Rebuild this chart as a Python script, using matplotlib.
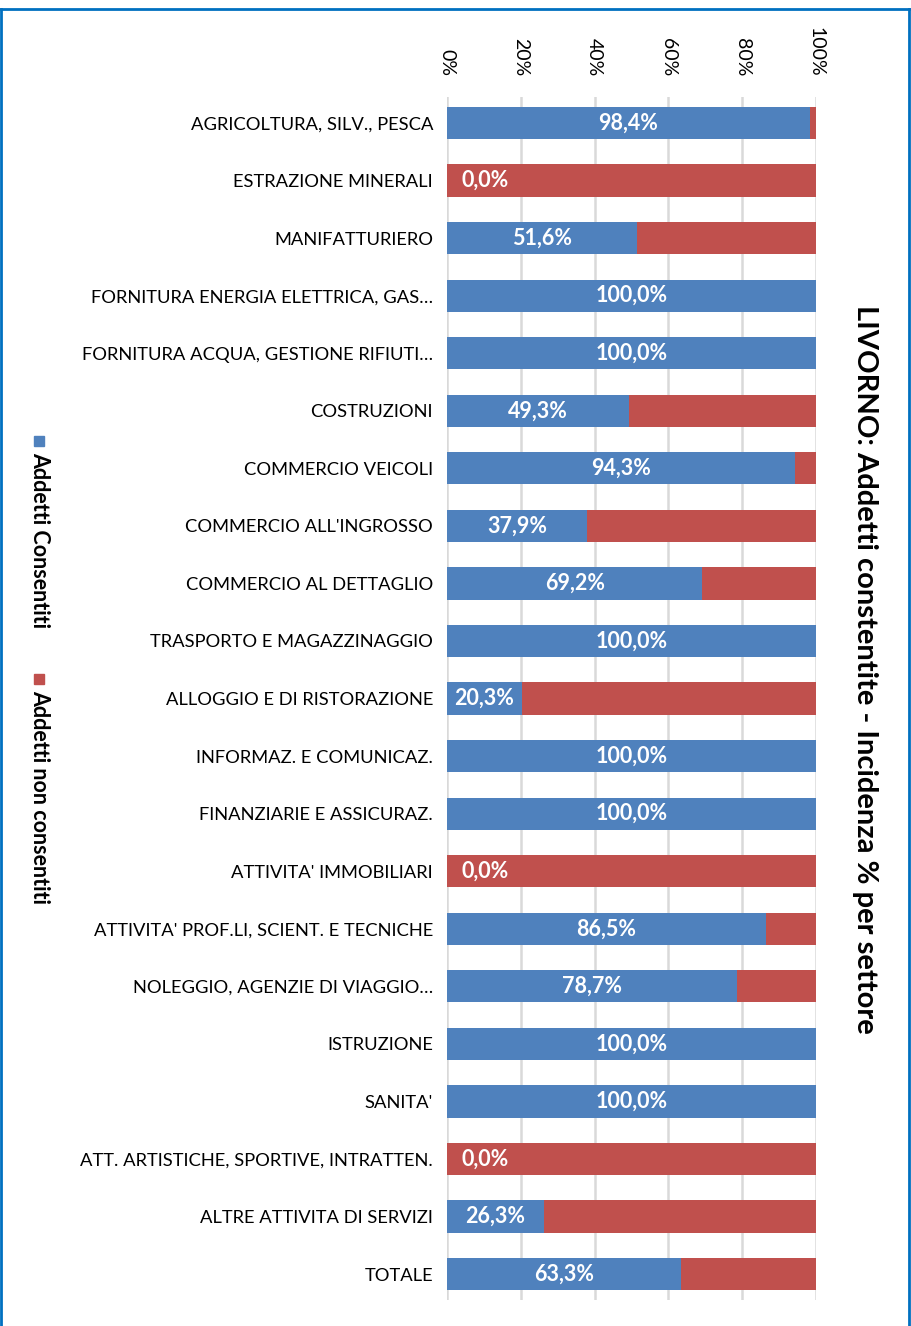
import matplotlib
matplotlib.use("Agg")
import matplotlib.pyplot as plt
from matplotlib.lines import Line2D
from matplotlib.patches import Rectangle
import numpy as np

plt.rcParams["font.family"] = ["Lato", "DejaVu Sans"]

sectors = [
    "AGRICOLTURA, SILV., PESCA",
    "ESTRAZIONE MINERALI",
    "MANIFATTURIERO",
    "FORNITURA ENERGIA ELETTRICA, GAS…",
    "FORNITURA ACQUA, GESTIONE RIFIUTI…",
    "COSTRUZIONI",
    "COMMERCIO VEICOLI",
    "COMMERCIO ALL'INGROSSO",
    "COMMERCIO AL DETTAGLIO",
    "TRASPORTO E MAGAZZINAGGIO",
    "ALLOGGIO E DI RISTORAZIONE",
    "INFORMAZ. E COMUNICAZ.",
    "FINANZIARIE E ASSICURAZ.",
    "ATTIVITA' IMMOBILIARI",
    "ATTIVITA' PROF.LI, SCIENT. E TECNICHE",
    "NOLEGGIO, AGENZIE DI VIAGGIO…",
    "ISTRUZIONE",
    "SANITA'",
    "ATT. ARTISTICHE, SPORTIVE, INTRATTEN.",
    "ALTRE ATTIVITA DI SERVIZI",
    "TOTALE",
]
consentiti = [98.4, 0.0, 51.6, 100.0, 100.0, 49.3, 94.3, 37.9, 69.2, 100.0,
              20.3, 100.0, 100.0, 0.0, 86.5, 78.7, 100.0, 100.0, 0.0, 26.3, 63.3]
non_consentiti = [100.0 - v for v in consentiti]
ticks = [0, 20, 40, 60, 80, 100]

BLUE = "#4F81BD"
RED = "#C0504D"

fig = plt.figure(figsize=(9.12, 13.26), dpi=100)
ax = fig.add_axes([0.4901, 0.0196, 0.4046, 0.9072])

y = np.arange(len(sectors))
ax.barh(y, consentiti, height=0.56, color=BLUE, zorder=3)
ax.barh(y, non_consentiti, left=consentiti, height=0.56, color=RED, zorder=3)

for i, v in enumerate(consentiti):
    label = f"{v:.1f}%".replace(".", ",")
    if v == 0:
        ax.text(4, i, label, ha="left", va="center", color="white",
                fontsize=15.5, fontweight="bold", zorder=4)
    else:
        ax.text(v / 2, i, label, ha="center", va="center", color="white",
                fontsize=15.5, fontweight="bold", zorder=4)

ax.set_xlim(0, 100)
ax.set_ylim(len(sectors) - 0.55, -0.45)
ax.set_yticks(y)
ax.set_yticklabels(sectors, fontsize=13.2)
ax.set_xticks(ticks)
ax.set_xticklabels([f"{t}%" for t in ticks], rotation=-90, fontsize=14)
ax.xaxis.tick_top()
ax.tick_params(axis="x", length=0, pad=15)
ax.tick_params(axis="y", length=0, pad=10)
for lbl in ax.get_xticklabels():
    lbl.set_verticalalignment("bottom")
ax.grid(axis="x", color="#D9D9D9", linewidth=1.8, zorder=0)
for s in ax.spines.values():
    s.set_visible(False)

fig.text(0.948, 0.495, "LIVORNO: Addetti constentite - Incidenza % per settore",
         rotation=-90, ha="center", va="center", fontsize=21,
         fontweight="bold")

# legend drawn vertically on the left side
fig.patches.append(Rectangle((0.0375, 1 - 446 / 1326), 0.011, 0.0078,
                             transform=fig.transFigure, color=BLUE))
fig.text(0.0435, 1 - 452 / 1326, "Addetti Consentiti", rotation=-90,
         ha="center", va="top", fontsize=15.5, fontweight="bold")
fig.patches.append(Rectangle((0.0375, 1 - 684 / 1326), 0.011, 0.0078,
                             transform=fig.transFigure, color=RED))
fig.text(0.0435, 1 - 690 / 1326, "Addetti non consentiti", rotation=-90,
         ha="center", va="top", fontsize=15.5, fontweight="bold")

# frame around the chart
border = "#0070C0"
fig.add_artist(Line2D([0.0015, 0.0015], [0, 1 - 9 / 1326], color=border,
                      linewidth=2, transform=fig.transFigure))
fig.add_artist(Line2D([0.0015, 0.9965], [1 - 9 / 1326, 1 - 9 / 1326],
                      color=border, linewidth=2, transform=fig.transFigure))
fig.add_artist(Line2D([0.9965, 0.9965], [0, 1 - 9 / 1326], color=border,
                      linewidth=2, transform=fig.transFigure))

fig.savefig("out.png", dpi=100)
